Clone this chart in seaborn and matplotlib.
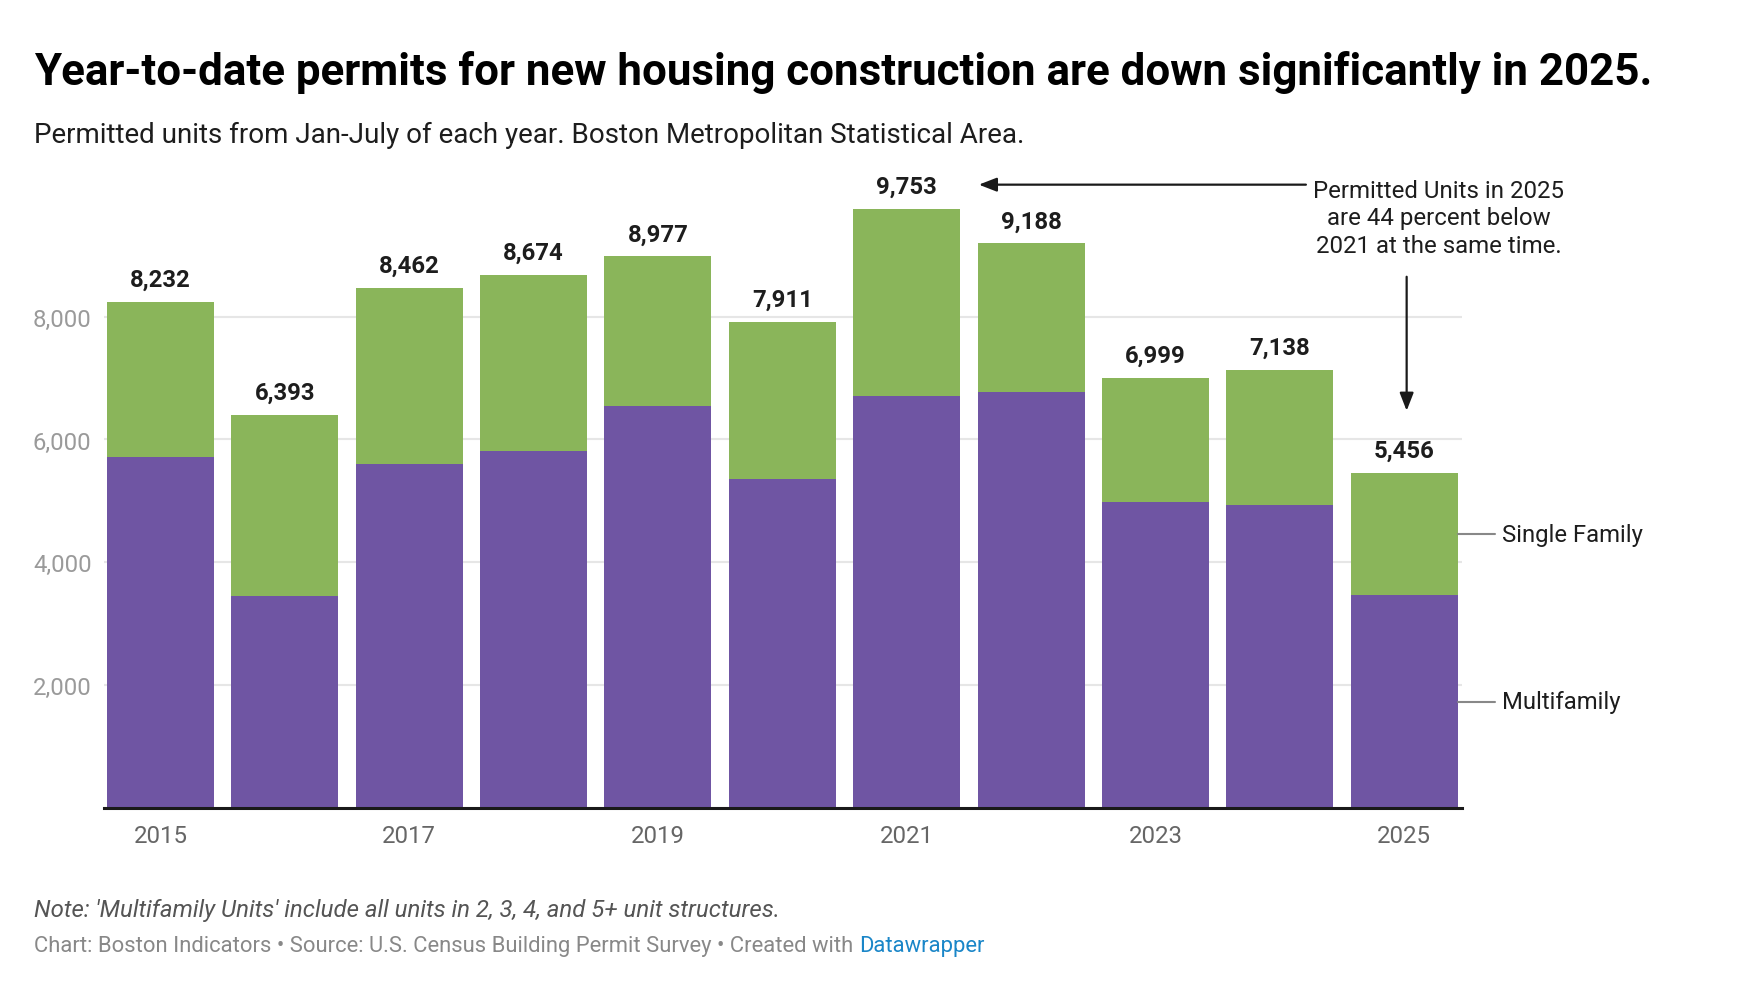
import matplotlib
matplotlib.use("Agg")
import matplotlib.pyplot as plt
import seaborn as sns
import pandas as pd

years = [str(y) for y in range(2015, 2026)]
multifamily = [5720, 3459, 5601, 5818, 6540, 5357, 6712, 6768, 4978, 4929, 3465]
single_family = [2512, 2934, 2861, 2856, 2437, 2554, 3041, 2420, 2021, 2209, 1991]
y_ticks = [2000, 4000, 6000, 8000]

purple = "#6f55a3"
green = "#8ab55a"

sns.set_theme(style="white")
plt.rcParams["font.family"] = ["Roboto", "DejaVu Sans"]

totals = [m + s for m, s in zip(multifamily, single_family)]
df = pd.DataFrame({"year": years, "multi": multifamily, "total": totals})

fig = plt.figure(figsize=(17.4, 10.04), dpi=100)
ax = fig.add_axes([0.0598, 0.1939, 0.7805, 0.6123])

sns.barplot(data=df, x="year", y="total", color=green, width=0.86, saturation=1,
            errorbar=None, linewidth=0, ax=ax)
sns.barplot(data=df, x="year", y="multi", color=purple, width=0.86, saturation=1,
            errorbar=None, linewidth=0, ax=ax)

ax.bar_label(ax.containers[0], labels=[f"{t:,}" for t in totals], padding=8,
             fontsize=17.2, fontweight="bold", color="#1d1d1d")

ax.set_xlim(-0.454, 10.466)
ax.set_ylim(0, 10000)
ax.set_yticks(y_ticks)
ax.set_yticklabels([f"{v:,}" for v in y_ticks])
ax.set_xticks(range(len(years)))
ax.set_xticklabels([y if i % 2 == 0 else "" for i, y in enumerate(years)])
ax.set_xlabel("")
ax.set_ylabel("")
ax.yaxis.grid(True, color="#e6e6e6", lw=1.5)
ax.set_axisbelow(True)
for s in ["top", "right", "left"]:
    ax.spines[s].set_visible(False)
ax.spines["bottom"].set_color("#1a1a1a")
ax.spines["bottom"].set_linewidth(2.2)
ax.tick_params(axis="x", length=0, pad=11, labelsize=17.3, labelcolor="#666666")
ax.tick_params(axis="y", length=0, pad=9, labelsize=17.2, labelcolor="#9a9a9a")

# direct labels for the series
n = len(years) - 1
half = 0.43
for val, name in [(multifamily[n] + single_family[n] / 2, "Single Family"),
                  (multifamily[n] / 2, "Multifamily")]:
    ax.plot([n + half, n + 0.73], [val, val], color="#888888", lw=1.5, clip_on=False)
    ax.text(n + 0.79, val, name, fontsize=17.2, color="#1d1d1d", va="center", ha="left")

# annotation
ax.text(10.28, 9604, "Permitted Units in 2025\nare 44 percent below\n2021 at the same time.",
        ha="center", va="center", fontsize=17.3, color="#1d1d1d", linespacing=1.25,
        clip_on=False)
ax.annotate("", xy=(6.58, 10145), xytext=(9.21, 10145),
            arrowprops=dict(arrowstyle="-|>,head_length=0.9,head_width=0.35",
                            color="#1a1a1a", lw=1.6, shrinkA=0, shrinkB=0),
            annotation_clip=False)
ax.annotate("", xy=(10.02, 6467), xytext=(10.02, 8647),
            arrowprops=dict(arrowstyle="-|>,head_length=0.9,head_width=0.35",
                            color="#1a1a1a", lw=1.6, shrinkA=0, shrinkB=0),
            annotation_clip=False)

fig.text(0.0195, 0.928, "Year-to-date permits for new housing construction are down significantly in 2025.",
         fontsize=31.6, fontweight="bold", color="#000000", va="center", ha="left")
fig.text(0.0195, 0.8655, "Permitted units from Jan-July of each year. Boston Metropolitan Statistical Area.",
         fontsize=20, color="#1d1d1d", va="center", ha="left")
fig.text(0.0195, 0.0936, "Note: 'Multifamily Units' include all units in 2, 3, 4, and 5+ unit structures.",
         fontsize=17.3, style="italic", color="#555555", va="center", ha="left")
cred = fig.text(0.0195, 0.0571, "Chart: Boston Indicators \u2022 Source: U.S. Census Building Permit Survey \u2022 Created with ",
                fontsize=15.8, color="#888888", va="center", ha="left")
fig.canvas.draw()
bb = cred.get_window_extent(renderer=fig.canvas.get_renderer())
fig.text(bb.x1 / fig.bbox.width, 0.0571, "Datawrapper", fontsize=15.8, color="#1a86c8",
         va="center", ha="left")

fig.savefig("out.png", dpi=100, facecolor="white")
